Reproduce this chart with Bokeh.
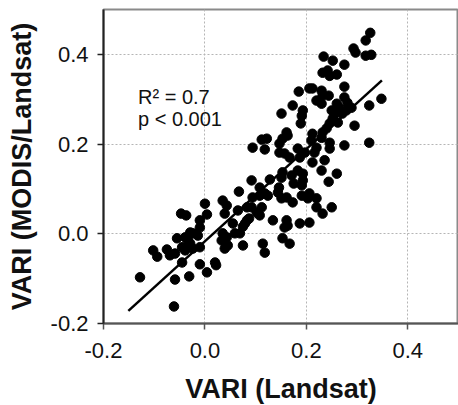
from bokeh.plotting import figure
from bokeh.models import Range1d, FixedTicker, Label, ColumnDataSource, CustomJSTickFormatter
from bokeh.embed import file_html
from bokeh.resources import INLINE

# --- data (VARI Landsat vs VARI MODIS/Landsat) ---
vari_landsat = [
    0.000, -0.047, -0.037, 0.004, -0.010, -0.010, -0.029, -0.024, -0.014, -0.055,
    -0.039, -0.033, -0.102, -0.094, -0.075, -0.069, -0.059, -0.045, -0.039, -0.029,
    -0.024, -0.010, -0.045, -0.010, 0.004, -0.128, -0.059, -0.031, -0.061,
    0.035, 0.043, 0.039, 0.065, 0.083, 0.094, 0.108, 0.118, 0.124, 0.092,
    0.102, 0.112, 0.108, 0.055, 0.079, 0.083, 0.075, 0.087, 0.134, 0.161,
    0.163, 0.157, 0.151, 0.161, 0.173, 0.153, 0.167, 0.114, 0.118, 0.020,
    0.022, 0.035, 0.043, 0.033, 0.039, 0.045, 0.059, 0.069, 0.075,
    0.193, 0.230, 0.260, 0.244, 0.191, 0.193, 0.191, 0.206, 0.203, 0.220,
    0.220, 0.232, 0.250, 0.187, 0.206,
    0.220, 0.230, 0.260, 0.265, 0.281, 0.289, 0.279, 0.271, 0.173, 0.193,
    0.191, 0.151, 0.250, 0.256, 0.252, 0.262, 0.246, 0.240, 0.324, 0.348,
    0.295, 0.189, 0.161, 0.163, 0.153, 0.147, 0.212, 0.210, 0.232, 0.230,
    0.220, 0.216, 0.246, 0.246, 0.275, 0.324, 0.183, 0.197, 0.187, 0.147,
    0.157, 0.167, 0.212, 0.236, 0.153, 0.151, 0.171, 0.183,
    0.326, 0.317, 0.293, 0.297, 0.317, 0.328, 0.234, 0.252, 0.275, 0.232,
    0.242, 0.246, 0.260, 0.275, 0.185, 0.206, 0.212, 0.230, 0.232, 0.244,
    0.275,
    0.112, 0.122, 0.094, 0.118, 0.092, 0.067, 0.108, 0.128, 0.146, 0.144,
    0.175,
]
vari_modis = [
    0.067, 0.045, 0.041, 0.043, 0.030, 0.014, 0.003, 0.001, -0.004, -0.010,
    -0.008, -0.015, -0.037, -0.051, -0.035, -0.048, -0.044, -0.030, -0.037, -0.022,
    -0.033, -0.030, -0.064, -0.068, -0.086, -0.097, -0.102, -0.095, -0.162,
    0.074, 0.063, 0.045, 0.052, 0.059, 0.081, 0.085, 0.090, 0.085, 0.059,
    0.047, 0.059, 0.041, 0.023, 0.023, 0.030, 0.016, 0.034, 0.030, 0.030,
    0.018, 0.014, 0.079, 0.081, 0.070, -0.010, -0.022, -0.022, -0.042, -0.064,
    -0.070, 0.001, -0.008, -0.015, -0.033, -0.026, 0.001, 0.001, -0.026,
    0.134, 0.141, 0.134, 0.116, 0.108, 0.119, 0.085, 0.090, 0.079, 0.079,
    0.059, 0.045, 0.059, 0.023, 0.025,
    0.297, 0.290, 0.290, 0.281, 0.292, 0.281, 0.275, 0.268, 0.286, 0.275,
    0.263, 0.268, 0.275, 0.268, 0.257, 0.248, 0.246, 0.235, 0.286, 0.301,
    0.241, 0.246, 0.226, 0.219, 0.212, 0.201, 0.223, 0.208, 0.226, 0.214,
    0.192, 0.181, 0.203, 0.190, 0.197, 0.203, 0.190, 0.181, 0.170, 0.181,
    0.179, 0.170, 0.159, 0.164, 0.137, 0.125, 0.130, 0.141,
    0.448, 0.431, 0.413, 0.404, 0.397, 0.399, 0.395, 0.386, 0.377, 0.359,
    0.364, 0.352, 0.355, 0.328, 0.317, 0.324, 0.324, 0.319, 0.308, 0.308,
    0.304,
    0.210, 0.212, 0.192, 0.188, 0.119, 0.094, 0.103, 0.121, 0.103, 0.092,
    0.112,
]
fit_x = [-0.151, 0.349]
fit_y = [-0.172, 0.342]
tick_values = [-0.2, 0.0, 0.2, 0.4]
grid_values = [0.0, 0.2, 0.4]
stats_lines = ["R\u00b2 = 0.7", "p < 0.001"]

FONT = "Liberation Sans"

p = figure(
    width=458, height=405,
    frame_width=355, frame_height=314,
    min_border_left=103, min_border_right=0, min_border_top=9, min_border_bottom=82,
    x_range=Range1d(-0.2, 0.5), y_range=Range1d(-0.2, 0.5),
    output_backend="svg", toolbar_location=None,
)
p.background_fill_color = "white"
p.border_fill_color = "white"
p.outline_line_color = "#8a8a8a"
p.outline_line_width = 2

fmt = CustomJSTickFormatter(code="return tick.toFixed(1);")
for ax in (p.xaxis[0], p.yaxis[0]):
    ax.ticker = FixedTicker(ticks=tick_values)
    ax.formatter = fmt
    ax.minor_tick_line_color = None
    ax.major_tick_in = 0
    ax.major_tick_out = 6
    ax.major_tick_line_width = 1.5
    ax.major_label_text_font = FONT
    ax.major_label_text_font_size = "22px"
    ax.major_label_text_color = "#111111"
    ax.axis_label_text_font = FONT
    ax.axis_label_text_font_size = "27px"
    ax.axis_label_text_font_style = "bold"
    ax.axis_label_text_color = "#111111"

p.xaxis[0].axis_label = "VARI (Landsat)"
p.yaxis[0].axis_label = "VARI (MODIS/Landsat)"
p.xaxis[0].axis_line_color = "#555555"
p.xaxis[0].axis_line_width = 2
p.xaxis[0].major_tick_line_color = "#555555"
p.yaxis[0].axis_line_color = "#222222"
p.yaxis[0].axis_line_width = 2
p.yaxis[0].major_tick_line_color = "#222222"
p.xaxis[0].major_label_standoff = 13
p.yaxis[0].major_label_standoff = 9
p.xaxis[0].axis_label_standoff = 13
p.yaxis[0].axis_label_standoff = 11

for g in (p.xgrid[0], p.ygrid[0]):
    g.ticker = FixedTicker(ticks=grid_values)
    g.grid_line_color = "#b5b5b5"
    g.grid_line_dash = "2 2"
    g.grid_line_width = 1

src = ColumnDataSource(dict(x=vari_landsat, y=vari_modis))
p.scatter("x", "y", source=src, size=9.5, fill_color="black", line_color="black")
p.line(fit_x, fit_y, line_color="black", line_width=2.5)

p.add_layout(Label(x=-0.132, y=0.304, text=stats_lines[0], text_font=FONT,
                   text_font_size="20px", text_color="#111111", text_baseline="alphabetic"))
p.add_layout(Label(x=-0.132, y=0.257, text=stats_lines[1], text_font=FONT,
                   text_font_size="20px", text_color="#111111", text_baseline="alphabetic"))

open("out.html", "w").write(file_html(p, INLINE))
